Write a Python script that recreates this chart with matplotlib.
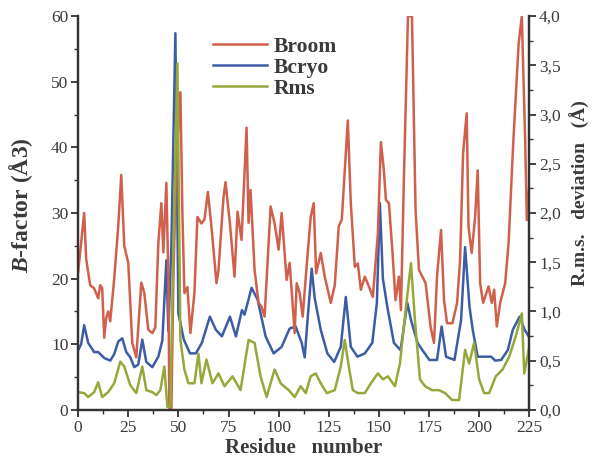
import numpy as np
import matplotlib
matplotlib.use("Agg")
import matplotlib.pyplot as plt
from matplotlib.ticker import MultipleLocator, FuncFormatter

# -------- data ------------------------------
broom_res = [0, 1, 3, 4, 6, 8, 10, 11, 12, 13, 14, 15, 16, 18, 20, 21.5, 23, 25, 27, 29,
             31.5, 33, 35, 37, 38.5, 40, 41.5, 42.5, 44, 45, 45.5, 46.5, 47.5, 49, 51, 52,
             53, 54.5, 56, 58, 59.5, 61.5, 63, 64.7, 66.5, 69, 70, 72.5, 73.5, 75.7, 78,
             79.5, 81.5, 84, 85, 86, 88, 90, 91.5, 93, 96, 98, 100, 101.5, 104, 105.5, 108,
             109, 110.5, 112, 114, 116, 117.5, 118.7, 121, 123, 126, 128, 130, 131.5, 134.5,
             136, 138, 139.5, 141, 143, 145, 147, 149.5, 151, 152.5, 153.5, 155, 156.7,
             158.3, 160, 161, 162.5, 164.5, 166.5, 168.3, 170, 171.7, 173.3, 175.8, 177.5,
             179, 181, 182.5, 184, 186.7, 189, 190.5, 192, 193.8, 194.7, 196.3, 198, 199.3,
             200.5, 202, 204.7, 206.3, 207.5, 208.8, 210.5, 213, 214.7, 217, 219.7, 221.3,
             223, 223.8, 225]
broom_b = [21, 24, 30, 23, 19, 18.5, 17, 19, 18.5, 11, 14, 15, 13.5, 20, 28, 35.8, 25, 22.4, 10.2, 8,
           19.4, 17.8, 12.2, 11.7, 12.6, 25.4, 31.5, 24, 34.6, 20, 0, 0, 20, 38, 48.4, 30,
           17.8, 18.7, 11.7, 17.8, 29.4, 28.4, 29, 33.2, 27.9, 19.3, 21.3, 32.4, 34.7, 28.4, 20.3,
           30.2, 25.9, 43, 28.5, 33.5, 21.3, 16.3, 15.7, 14.2, 31, 28.4, 24.4, 30, 19.8, 22.4, 11.7,
           19.3, 17.8, 14.2, 22, 29.4, 31.5, 20.8, 23.9, 20.3, 16.3, 19, 28, 29, 44.1,
           31.5, 21.8, 22.3, 18.3, 20.3, 18.8, 17.2, 26.9, 40.8, 36.5, 32, 31.5, 24.4,
           16.7, 20.3, 15.2, 35.5, 60, 60, 30.4, 21.3, 20.3, 19.3, 12.6, 10.2,
           20.3, 27.4, 16.7, 13.2, 13.2, 16.3, 22.8, 39.1, 45.2, 27.9, 23.9, 29.4, 36.5,
           19.3, 16.3, 18.8, 16.3, 18.3, 12.7, 16.3, 19.3, 25.4, 40.6, 55.8, 60,
           40.6, 28.9, 34]

bcryo_res = [0, 1.5, 3, 5, 8, 10, 13, 16, 18, 20, 22, 24, 26, 28, 30, 32, 34, 37, 40, 42, 44,
             45, 46.5, 48.5, 50, 52.7, 55.8, 58.7, 61.7, 63, 65.7, 68.7, 71.7, 75.7, 78.7,
             81.7, 83, 86.5, 89.5, 93.5, 97.5, 101.5, 105.5, 108.5, 111.5, 113, 114.5, 116.5,
             118, 121, 124.3, 127.7, 131, 133.5, 136, 139.3, 143, 146.7, 149, 150.5, 152,
             154.2, 157.5, 160.8, 164.2, 166, 169.3, 171.7, 175.2, 179, 181.3, 183.5, 187.7,
             191, 193, 195.2, 196.8, 199.3, 203, 206, 208, 211, 214.3, 216.8, 220.2, 222.7,
             224.7]
bcryo_b = [9.1, 10, 12.9, 10.2, 8.8, 8.8, 7.9, 7.5, 8.5, 10.4, 10.9, 8.8, 8.0, 6.5, 6.9, 10.7, 7.3, 6.5, 8.1, 10.6, 22.8,
           12, 25, 57.4, 14.7, 10.7, 8.6, 8.6, 10.2, 11.5, 14.2, 12.2, 11.2, 14.2, 11.2,
           15.2, 14.5, 18.6, 16.8, 11.2, 8.6, 9.6, 12.4, 12.7, 10.2, 8, 14, 21.5,
           17, 12.2, 8.6, 7.3, 9.6, 17.2, 9.6, 8.1, 8.6, 10.2, 16.3, 31.5, 20,
           15.7, 10.2, 9.1, 16.3, 13.7, 10.2, 9.1, 7.6, 7.6, 12.7, 8.1, 7.6,
           13.7, 24.8, 15.7, 12.2, 8.1, 8.1, 8.1, 7.5, 7.6, 9.1, 12.2, 14.2, 12.2,
           11.2]

rms_res = [0, 3, 5, 8, 10, 12, 15, 18, 21, 23, 26, 29, 32, 34, 37, 39, 41, 43, 44.5, 46,
           47.5, 49.5, 50.5, 51, 53, 55, 58, 60, 61.5, 64, 67, 70, 73, 77, 81, 85, 88, 91,
           94, 98, 101, 105, 108, 111, 113.5, 116, 118.5, 121, 124, 128, 131, 133, 135,
           137, 139.5, 143, 146, 149.5, 152, 154.5, 158, 160.5, 163, 166, 168, 170.5, 173,
           176.5, 180, 183, 186.5, 190, 193, 195, 197.5, 200, 202.5, 205, 208.3, 211.7,
           215, 218.3, 221.3, 222.5, 225]
rms_dev = [0.18, 0.17, 0.13, 0.18, 0.28, 0.13, 0.18, 0.27, 0.49, 0.44, 0.25, 0.17, 0.44, 0.20, 0.18, 0.15, 0.20, 0.44, 0.03, 0.03,
           1.67, 3.52, 1.67, 0.71, 0.41, 0.27, 0.27, 0.57, 0.27, 0.51, 0.27, 0.37, 0.24, 0.34, 0.20, 0.71, 0.68, 0.34,
           0.13, 0.41, 0.27, 0.20, 0.13, 0.24, 0.17, 0.34, 0.37, 0.27, 0.17, 0.20, 0.44, 0.71, 0.44,
           0.20, 0.17, 0.17, 0.27, 0.37, 0.31, 0.34, 0.24, 0.47, 0.95, 1.49, 0.91, 0.31, 0.24,
           0.20, 0.20, 0.17, 0.10, 0.10, 0.61, 0.47, 0.68, 0.31, 0.17, 0.17, 0.34, 0.41,
           0.54, 0.75, 0.98, 0.37, 0.64]

RED = "#d0604c"
BLUE = "#3d5ca6"
GREEN = "#95a83a"
TXT = "#3a3a3a"

plt.rcParams["font.family"] = ["Liberation Serif", "DejaVu Serif"]
plt.rcParams["mathtext.fontset"] = "custom"
plt.rcParams["mathtext.it"] = "Liberation Serif:italic:bold"
plt.rcParams["mathtext.rm"] = "Liberation Serif:bold"

fig = plt.figure(figsize=(5.92, 4.61), dpi=100)
ax = fig.add_axes([0.132, 0.111, 0.762, 0.854])
ax2 = ax.twinx()

l1, = ax.plot(broom_res, broom_b, color=RED, lw=1.8, label="Broom", zorder=3)
l2, = ax.plot(bcryo_res, bcryo_b, color=BLUE, lw=1.8, label="Bcryo", zorder=2)
l3, = ax2.plot(rms_res, rms_dev, color=GREEN, lw=1.8, label="Rms")

ax.set_xlim(0, 225)
ax.set_ylim(0, 60)
ax2.set_ylim(0, 4)

ax.xaxis.set_major_locator(MultipleLocator(25))
ax.xaxis.set_minor_locator(MultipleLocator(12.5))
ax.yaxis.set_major_locator(MultipleLocator(10))
ax.yaxis.set_minor_locator(MultipleLocator(5))
ax2.yaxis.set_major_locator(MultipleLocator(0.5))
ax2.yaxis.set_minor_locator(MultipleLocator(0.25))
ax2.yaxis.set_major_formatter(FuncFormatter(lambda v, p: f"{v:.1f}".replace(".", ",")))

for a in (ax, ax2):
    a.spines["top"].set_visible(False)
    for s in ("left", "right", "bottom"):
        a.spines[s].set_linewidth(1.6)
        a.spines[s].set_color("#333333")
    a.tick_params(which="major", length=5, width=1.3, labelsize=12.5, colors="#333333",
                  labelcolor=TXT, pad=2)
    a.tick_params(which="minor", length=3, width=1.0, colors="#333333")

ax.set_xlabel("Residue   number", fontsize=15, fontweight="bold", color=TXT, labelpad=2)
ax.set_ylabel(r"$B$-factor (Å3)", fontsize=17, fontweight="bold", color=TXT)
ax.yaxis.set_label_coords(-0.095, 0.52)
ax2.set_ylabel("R.m.s.   deviation   (Å)", fontsize=14, fontweight="bold", color=TXT,
               rotation=90)
ax2.yaxis.set_label_coords(1.09, 0.55)

leg = ax2.legend(handles=[l1, l2, l3], loc="upper left", bbox_to_anchor=(0.3, 0.948),
                 frameon=False, prop={"family": "Liberation Serif", "weight": "bold", "size": 15.5},
                 handlelength=2.5, handletextpad=0.3, labelspacing=0.05, borderaxespad=0,
                 borderpad=0)
for t in leg.get_texts():
    t.set_color(TXT)

fig.savefig("out.png", dpi=100)
